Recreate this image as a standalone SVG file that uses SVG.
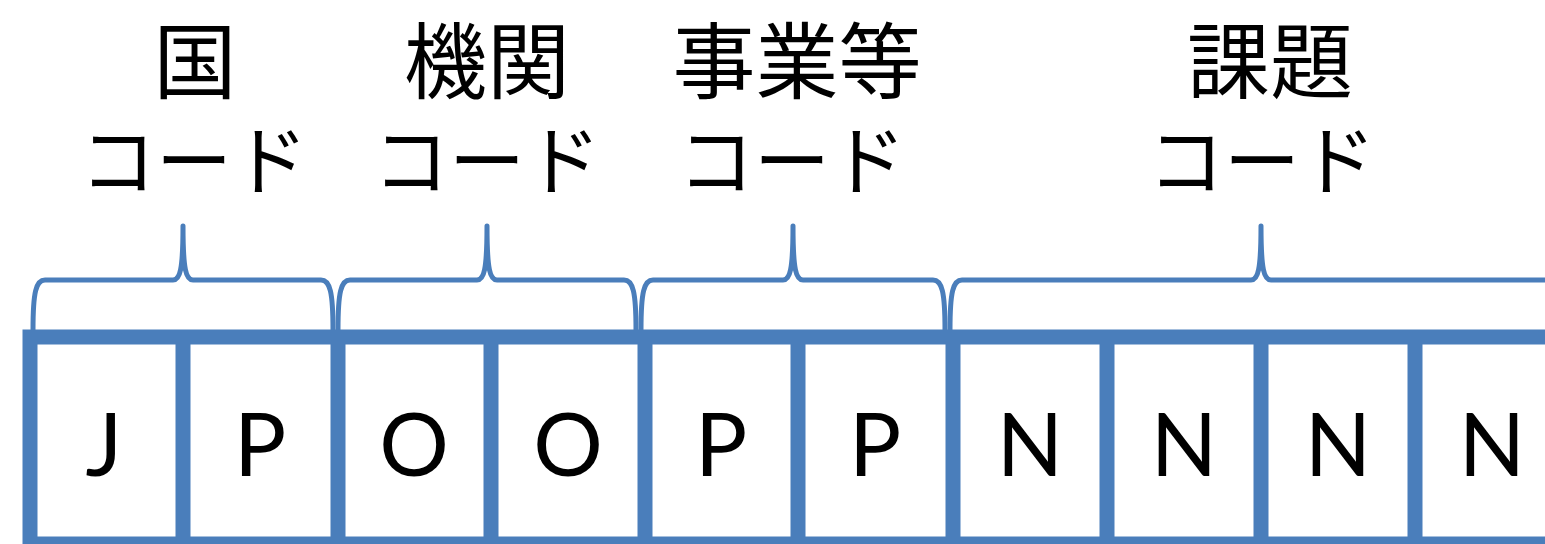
<svg xmlns="http://www.w3.org/2000/svg" width="1545" height="544" viewBox="0 0 1545 544">
<style>
.lbl{font-family:"Noto Sans CJK JP","Noto Sans",sans-serif;fill:#000;text-anchor:middle}
.kj{font-size:83px}
.kt{font-size:76px}
.ch{font-family:Lato,"Open Sans","Liberation Sans",sans-serif;font-size:87px;fill:#000;text-anchor:middle}
.cell{fill:none;stroke:#4A7EBB;stroke-width:15}
.brace{fill:none;stroke:#4A7EBB;stroke-width:5;stroke-linecap:round;stroke-linejoin:round}
</style>
<rect width="1545" height="544" fill="#fff"/>
<g id="labels">
<g id="label-country"><text class="lbl kj" x="195" y="92">国</text><text class="lbl kt" x="194" y="189">コード</text></g>
<g id="label-org"><text class="lbl kj" x="487" y="92">機関</text><text class="lbl kt" x="487" y="189">コード</text></g>
<g id="label-project"><text class="lbl kj" x="797" y="92">事業等</text><text class="lbl kt" x="792" y="189">コード</text></g>
<g id="label-task"><text class="lbl kj" x="1270" y="92">課題</text><text class="lbl kt" x="1262" y="189">コード</text></g>
</g>
<g id="connectors">
<path class="brace" d="M33,330 C33,292 36,280 45,280 H173 C180,280 183,270 183,226 C183,270 186,280 193,280 H321 C330,280 333,292 333,330"/>
<path class="brace" d="M338,330 C338,292 341,280 350,280 H477 C484,280 487,270 487,226 C487,270 490,280 497,280 H624 C633,280 636,292 636,330"/>
<path class="brace" d="M641,330 C641,292 644,280 653,280 H783 C790,280 793,270 793,226 C793,270 796,280 803,280 H933 C942,280 945,292 945,330"/>
<path class="brace" d="M950,330 C950,292 953,280 962,280 H1251 C1258,280 1261,270 1261,226 C1261,270 1264,280 1271,280 H1560"/>
</g>
<g id="table">
<rect class="cell" x="30" y="337" width="1600" height="207"/>
<path class="cell" d="M183,337V544M338,337V544M491,337V544M645,337V544M798,337V544M953,337V544M1107,337V544M1261,337V544M1415,337V544"/>
</g>
<g id="cells">
<text class="ch" x="104" y="476">J</text>
<text class="ch" x="260" y="476">P</text>
<text class="ch" x="414" y="476">O</text>
<text class="ch" x="568" y="476">O</text>
<text class="ch" x="721" y="476">P</text>
<text class="ch" x="875" y="476">P</text>
<text class="ch" x="1030" y="476">N</text>
<text class="ch" x="1184" y="476">N</text>
<text class="ch" x="1338" y="476">N</text>
<text class="ch" x="1492" y="476">N</text>
</g>
</svg>
